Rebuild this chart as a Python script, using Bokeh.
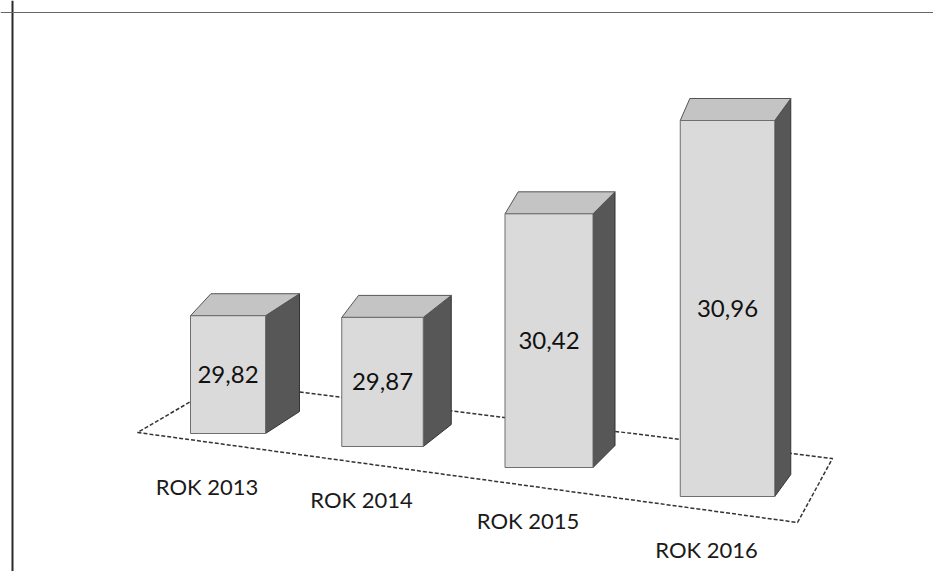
import numpy as np
from bokeh.plotting import figure
from bokeh.models import Range1d, Span
from bokeh.embed import file_html
from bokeh.resources import INLINE
from bokeh.core.properties import value

# ---- data ----
categories = ["ROK 2013", "ROK 2014", "ROK 2015", "ROK 2016"]
values = [29.82, 29.87, 30.42, 30.96]
value_labels = ["29,82", "29,87", "30,42", "30,96"]

# ---- layout / style parameters ----
W, H = 933, 571
AXIS_MIN = 29.3          # value axis minimum of the 3D chart
PX_PER_UNIT = 226.5      # vertical scale (pixels per value unit)
BASE0_PX = 433           # pixel row of first bar's base
Y_TOP = AXIS_MIN + BASE0_PX / PX_PER_UNIT
Y_BOT = Y_TOP - H / PX_PER_UNIT

# perspective of the bar row (pixels)
C0, D, DD = 227.5, 154.5, 12.0      # bar centres
W0, DW = 75.0, 6.5                  # front-face widths
B0, DB, DDB = BASE0_PX, 13.0, 8.0   # base line of front faces
DEPTH_DX0, DEPTH_DDX, DEPTH_DY = 34.0, -6.0, 22.0


def vy(px):
    """pixel row -> value units of the y range"""
    return Y_TOP - px / PX_PER_UNIT


p = figure(width=W, height=H, x_range=Range1d(0, W), y_range=Range1d(Y_BOT, Y_TOP),
           output_backend="svg", toolbar_location=None, min_border=0,
           x_axis_location=None, y_axis_location=None)
p.grid.visible = False
p.outline_line_color = None
p.background_fill_color = "white"
p.border_fill_color = "white"

# chart frame (top and left edges visible in the window)
p.add_layout(Span(location=12, dimension="height", line_color="#2a2a2a", line_width=2))
p.add_layout(Span(location=vy(12), dimension="width", line_color="#666666", line_width=1))

# floor plane (decorative, dashed)
floor_x = [137, 797, 832, 223]
floor_y = [vy(v) for v in (432, 522, 458, 382)]
p.patch(floor_x, floor_y, fill_color="white", line_color="#333333",
        line_dash="4 2", line_width=1.5)

idx = np.arange(len(values))
vals = np.array(values)
cx = C0 + idx * D + idx * (idx - 1) / 2 * DD
bw = W0 + idx * DW
base_px = B0 + idx * DB + idx * (idx - 1) / 2 * DDB
ddx = DEPTH_DX0 + idx * DEPTH_DDX
ddy = DEPTH_DY / PX_PER_UNIT

bottom = np.array([vy(b) for b in base_px])
top = bottom + (vals - AXIS_MIN)
xl = cx - bw / 2
xr = cx + bw / 2

side_xs, side_ys, top_xs, top_ys, front_xs, front_ys = [], [], [], [], [], []
for i in idx:
    side_xs.append([xr[i], xr[i], xr[i] + ddx[i], xr[i] + ddx[i]])
    side_ys.append([bottom[i], top[i], top[i] + ddy, bottom[i] + ddy])
    top_xs.append([xl[i], xr[i], xr[i] + ddx[i], xl[i] + ddx[i] * 0.6])
    top_ys.append([top[i], top[i], top[i] + ddy, top[i] + ddy])
    front_xs.append([xl[i], xr[i], xr[i], xl[i]])
    front_ys.append([bottom[i], bottom[i], top[i], top[i]])

p.patches(side_xs, side_ys, fill_color="#575757", line_color="#333333", line_width=1)
p.patches(top_xs, top_ys, fill_color="#c4c4c4", line_color="#555555", line_width=1)
p.patches(front_xs, front_ys, fill_color="#dadada", line_color="#6e6e6e", line_width=1)

# value labels on the front faces
p.text(x=list(cx), y=list((top + bottom) / 2), text=value_labels,
       text_align="center", text_baseline="middle",
       text_font=value("Lato"), text_font_size="24px", text_color="#111111")

# category labels along the front edge of the floor
p.text(x=list(cx - 21), y=list(bottom - 53 / PX_PER_UNIT), text=categories,
       text_align="center", text_baseline="middle",
       text_font=value("Lato"), text_font_size="22px", text_color="#1a1a1a")

open("out.html", "w").write(file_html(p, INLINE))
